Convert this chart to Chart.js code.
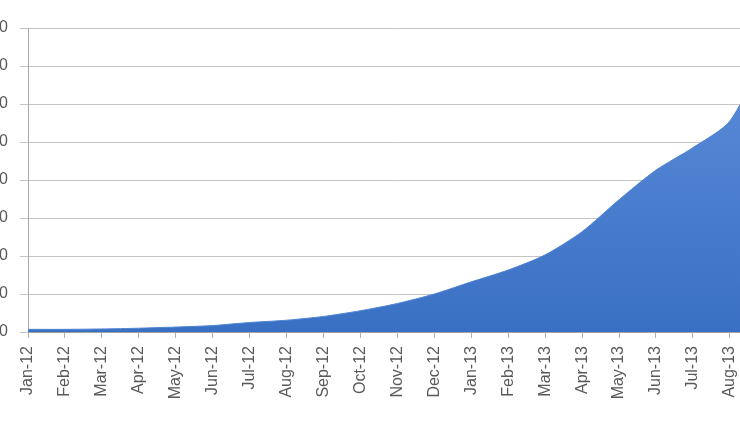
<!DOCTYPE html>
<html>
<head>
<meta charset="utf-8">
<script src="https://cdn.jsdelivr.net/npm/chart.js@4/dist/chart.umd.min.js"></script>
<style>
  html, body { margin: 0; padding: 0; background: #fff; overflow: hidden; }
  body { width: 740px; height: 431px; position: relative; }
  #wrap { position: absolute; left: -32px; top: 0; width: 826px; height: 431px; }
</style>
</head>
<body>
<div id="wrap"><canvas id="chart"></canvas></div>
<script>
// monthly totals, Jan-12 .. Sep-13 (chart is cropped on the left and right)
const months = ['Jan-12', 'Feb-12', 'Mar-12', 'Apr-12', 'May-12', 'Jun-12', 'Jul-12',
  'Aug-12', 'Sep-12', 'Oct-12', 'Nov-12', 'Dec-12', 'Jan-13', 'Feb-13', 'Mar-13',
  'Apr-13', 'May-13', 'Jun-13', 'Jul-13', 'Aug-13', 'Sep-13'];
const totals = [70, 70, 80, 100, 130, 170, 250, 310, 410, 560, 750, 1000, 1320, 1630,
  2030, 2640, 3480, 4260, 4850, 5550, 7400];
const yMax = 8000;
const yStep = 1000;

const labelColor = '#595959';

function areaFill(ctx) {
  const area = ctx.chart.chartArea;
  if (!area) return '#4a7fd0';
  const g = ctx.chart.ctx.createLinearGradient(0, area.top, 0, area.bottom);
  g.addColorStop(0, '#5e8fdb');
  g.addColorStop(1, '#3a70c3');
  return g;
}

new Chart(document.getElementById('chart').getContext('2d'), {
  type: 'line',
  data: {
    labels: months,
    datasets: [{
      label: 'Total',
      data: totals,
      fill: 'origin',
      backgroundColor: areaFill,
      borderColor: '#4f84d3',
      borderWidth: 1,
      pointRadius: 0,
      tension: 0.25,
    }]
  },
  options: {
    responsive: true,
    maintainAspectRatio: false,
    animation: false,
    layout: { padding: { top: 28, right: 12, bottom: 0, left: 0 } },
    plugins: {
      legend: { display: false },
      tooltip: { enabled: false }
    },
    scales: {
      x: {
        offset: false,
        afterFit: (s) => { s.height = 99; },
        grid: { drawOnChartArea: false, tickLength: 6, color: '#b0b0b0' },
        border: { color: '#a0a0a0' },
        ticks: {
          color: labelColor,
          font: { family: 'Liberation Sans, Arial, sans-serif', size: 16 },
          minRotation: 90,
          maxRotation: 90,
          autoSkip: false,
          padding: 8
        }
      },
      y: {
        min: 0,
        max: yMax,
        afterFit: (s) => { s.width = 60; },
        grid: { color: '#c4c4c4', tickLength: 8 },
        border: { color: '#a8a8a8' },
        ticks: {
          stepSize: yStep,
          color: labelColor,
          font: { family: 'Liberation Sans, Arial, sans-serif', size: 16 },
          padding: 12
        }
      }
    }
  }
});
</script>
</body>
</html>
